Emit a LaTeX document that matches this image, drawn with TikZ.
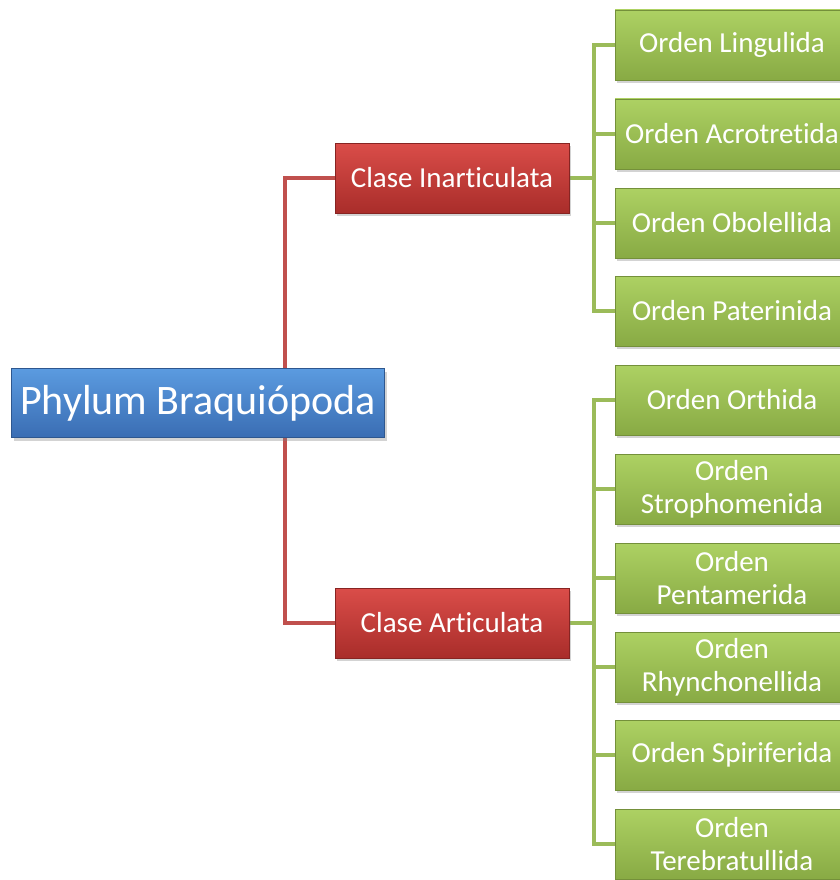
\documentclass[tikz,border=0pt]{standalone}
\usepackage{fontspec}
\setmainfont{Carlito}[Ligatures=NoCommon]
\usetikzlibrary{shadows,backgrounds}

\definecolor{bluetop}{HTML}{5B9BE0}
\definecolor{bluebot}{HTML}{3A6DB3}
\definecolor{redtop}{HTML}{DA4D49}
\definecolor{redbot}{HTML}{A92D2A}
\definecolor{greentop}{HTML}{ADD163}
\definecolor{greenbot}{HTML}{88AA44}
\definecolor{redline}{HTML}{C0504D}
\definecolor{greenline}{HTML}{9BBB59}

\tikzset{
  box/.style={rectangle, text=white, align=center, inner sep=2pt,
    drop shadow={shadow xshift=2pt, shadow yshift=-3pt, opacity=0.35}},
  rootbox/.style={box, top color=bluetop, bottom color=bluebot,
    draw=bluebot!80!black, minimum width=373pt, minimum height=69pt,
    font=\fontsize{42}{46}\selectfont},
  classbox/.style={box, top color=redtop, bottom color=redbot,
    draw=redbot!80!black, minimum width=234pt, minimum height=70pt,
    font=\fontsize{29}{33}\selectfont},
  orderbox/.style={box, top color=greentop, bottom color=greenbot,
    draw=greenbot!85!black, minimum width=234pt, minimum height=70pt,
    font=\fontsize{29}{33}\selectfont},
  redlink/.style={draw=redline, line width=4pt},
  greenlink/.style={draw=greenline, line width=4pt}
}

\begin{document}
\begin{tikzpicture}[x=1pt,y=-1pt]
\useasboundingbox (0,0) rectangle (839,880);

\node[rootbox] (root) at (198,403) {Phylum Braquiópoda};

\node[classbox] (c1) at (452,178) {Clase Inarticulata};
\node[classbox] (c2) at (452,623) {Clase Articulata};

\node[orderbox] (o1) at (732,45) {Orden Lingulida};
\node[orderbox] (o2) at (732,134) {Orden Acrotretida};
\node[orderbox] (o3) at (732,223) {Orden Obolellida};
\node[orderbox] (o4) at (732,311) {Orden Paterinida};
\node[orderbox] (o5) at (732,400) {Orden Orthida};
\node[orderbox] (o6) at (732,489) {Orden\\Strophomenida};
\node[orderbox] (o7) at (732,578) {Orden\\Pentamerida};
\node[orderbox] (o8) at (732,667) {Orden\\Rhynchonellida};
\node[orderbox] (o9) at (732,755) {Orden Spiriferida};
\node[orderbox] (o10) at (732,844) {Orden\\Terebratullida};

\coordinate (rs) at (285,403);
\coordinate (gs1) at (594,178);
\coordinate (gs2) at (594,623);

\begin{scope}[on background layer]
\draw[redlink] (rs) |- (c1.west);
\draw[redlink] (rs) |- (c2.west);
\draw[greenlink] (c1.east) -- (gs1);
\draw[greenlink] (c2.east) -- (gs2);
\foreach \o in {o1,o2,o3,o4}
  \draw[greenlink] (gs1) |- (\o.west);
\foreach \o in {o5,o6,o7,o8,o9,o10}
  \draw[greenlink] (gs2) |- (\o.west);
\end{scope}
\end{tikzpicture}
\end{document}
